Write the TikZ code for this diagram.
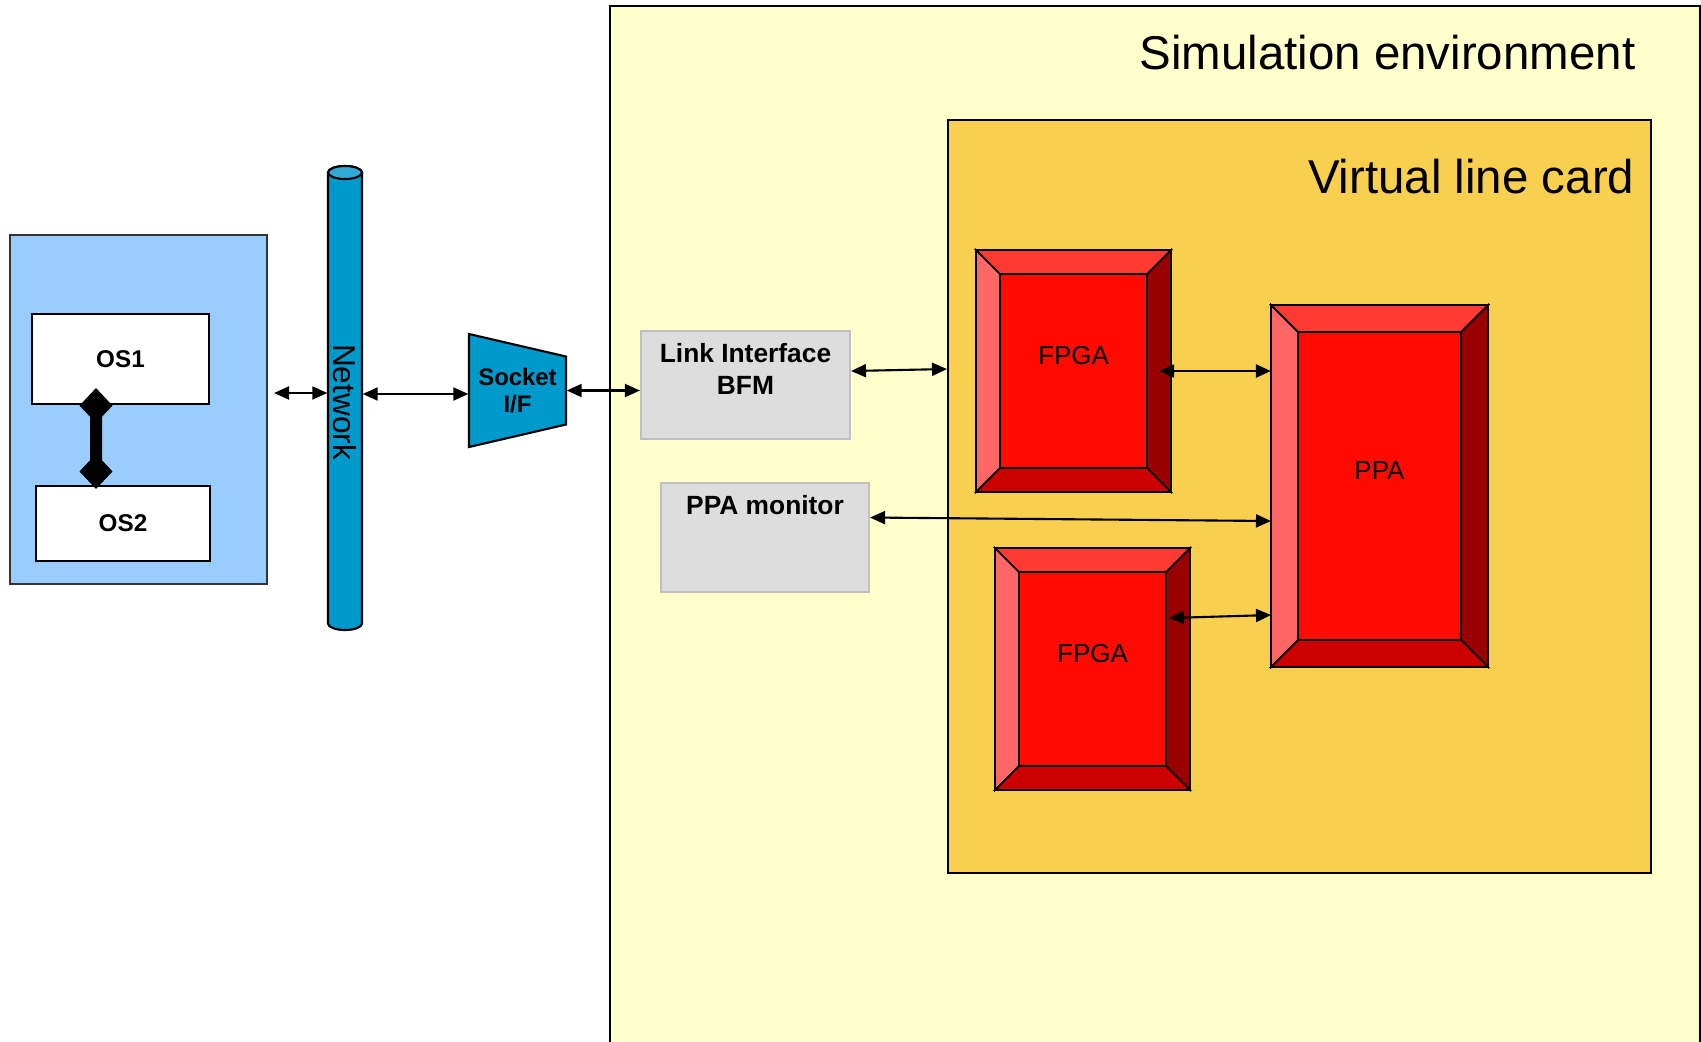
\documentclass[tikz,border=0pt]{standalone}
\usepackage{fontspec}
\setmainfont{Liberation Sans}
\usetikzlibrary{arrows.meta}
\usetikzlibrary{shapes.geometric}

\definecolor{simyellow}{HTML}{FFFFCC}
\definecolor{cardgold}{HTML}{F8CF4E}
\definecolor{hostblue}{HTML}{99CCFF}
\definecolor{netblue}{HTML}{0099CC}
\definecolor{netcap}{HTML}{33AAD5}
\definecolor{bfmgray}{HTML}{DDDDDD}
\definecolor{bfmedge}{HTML}{C0C0C0}
\definecolor{chipface}{HTML}{FF0A00}
\definecolor{chiptop}{HTML}{FF3A33}
\definecolor{chipleft}{HTML}{FF6666}
\definecolor{chipright}{HTML}{990000}
\definecolor{chipbottom}{HTML}{CC0000}

\tikzset{
    tbox/.style = {rectangle, inner sep=0pt, line width=0.6pt},
    env_box/.style = {tbox, draw=black, fill=simyellow, anchor=north west},
    card_box/.style = {tbox, draw=black, fill=cardgold, anchor=north west},
    title/.style = {inner sep=0pt, anchor=base east, font=\fontsize{13.5}{16}\selectfont},
    host_box/.style = {tbox, draw=black!80, fill=hostblue},
    os_box/.style = {tbox, draw=black, fill=white, font=\fontsize{6.9}{8}\selectfont\bfseries},
    os_link/.style = {line width=0.12cm, shorten <=-0.17cm, shorten >=-0.04cm,
        {Diamond[length=0.35cm,width=0.33cm,line width=0pt]}-{Diamond[length=0.35cm,width=0.33cm,line width=0pt]}},
    pipe/.style = {draw=black, line width=0.6pt},
    net_text/.style = {rectangle, rotate=-90, inner sep=0pt, minimum width=4.64cm, minimum height=0.34cm,
        font=\fontsize{9}{11}\selectfont},
    sock_text/.style = {align=center, inner sep=0pt, minimum width=0.97cm, minimum height=1.13cm,
        font=\fontsize{6.8}{7.7}\selectfont\bfseries},
    bfm_box/.style = {tbox, draw=bfmedge, fill=bfmgray},
    bfm_text/.style = {align=center, inner sep=0pt, font=\fontsize{7.5}{9.1}\selectfont\bfseries},
    chip/.style = {tbox, draw=black},
    chip_text/.style = {inner sep=0pt, font=\fontsize{7.4}{9}\selectfont},
    link/.style = {line width=0.6pt,
        {Triangle[length=0.15cm,width=0.13cm]}-{Triangle[length=0.15cm,width=0.13cm]}}
}

% bevelled chip: node name, bevel width, label
\newcommand{\chipfaces}[3]{%
    \filldraw[fill=chipleft, draw=black, line width=0.5pt] (#1.north west) -- ([shift={(#2,-#2)}]#1.north west)
        -- ([shift={(#2,#2)}]#1.south west) -- (#1.south west) -- cycle;
    \filldraw[fill=chipright, draw=black, line width=0.5pt] (#1.north east) -- ([shift={(-#2,-#2)}]#1.north east)
        -- ([shift={(-#2,#2)}]#1.south east) -- (#1.south east) -- cycle;
    \filldraw[fill=chiptop, draw=black, line width=0.5pt] (#1.north west) -- (#1.north east)
        -- ([shift={(-#2,-#2)}]#1.north east) -- ([shift={(#2,-#2)}]#1.north west) -- cycle;
    \filldraw[fill=chipbottom, draw=black, line width=0.5pt] (#1.south west) -- (#1.south east)
        -- ([shift={(-#2,#2)}]#1.south east) -- ([shift={(#2,#2)}]#1.south west) -- cycle;
    \filldraw[fill=chipface, draw=black, line width=0.5pt] ([shift={(#2,-#2)}]#1.north west)
        rectangle ([shift={(-#2,#2)}]#1.south east);
    \draw[line width=0.6pt] (#1.north west) rectangle (#1.south east);
    \node[chip_text] at ([yshift=0.15cm]#1.center) {#3};
}

\begin{document}
\begin{tikzpicture}
    \useasboundingbox (0,0) rectangle (17.01,-10.41);

    % simulation side
    \node[env_box, minimum width=10.90cm, minimum height=10.5cm] (sim) at (6.09,-0.05) {};
    \node[title] at (16.36,-0.69) {Simulation environment};
    \node[card_box, minimum width=7.03cm, minimum height=7.53cm] (vlc) at (9.47,-1.19) {};
    \node[title] at (16.35,-1.93) {Virtual line card};

    % host with its two OSes
    \node[host_box, minimum width=2.57cm, minimum height=3.49cm] (host) at (1.385,-4.095) {};
    \node[os_box, minimum width=1.77cm, minimum height=0.90cm] (os1) at (1.205,-3.59) {OS1};
    \node[os_box, minimum width=1.74cm, minimum height=0.75cm] (os2) at (1.23,-5.235) {OS2};
    \draw[os_link] ([xshift=-0.245cm]os1.south) -- ([xshift=-0.27cm]os2.north);

    % network pipe
    \coordinate (nc) at (3.45,-3.98);
    \filldraw[pipe, fill=netblue] ([shift={(-0.17,2.255)}]nc) -- ([shift={(-0.17,-2.255)}]nc)
        arc[start angle=180, end angle=360, x radius=0.17, y radius=0.065]
        -- ([shift={(0.17,2.255)}]nc)
        arc[start angle=0, end angle=180, x radius=0.17, y radius=0.065] -- cycle;
    \filldraw[pipe, fill=netcap] ([yshift=2.255cm]nc) ellipse [x radius=0.17, y radius=0.065];
    \node[net_text] (net) at ([yshift=-0.04cm]nc) {Network};

    % socket interface
    \coordinate (sk) at (5.175,-3.905);
    \filldraw[fill=netblue, draw=black, line width=0.6pt] ([shift={(-0.485,0.565)}]sk) -- ([shift={(0.485,0.34)}]sk)
        -- ([shift={(0.485,-0.34)}]sk) -- ([shift={(-0.485,-0.565)}]sk) -- cycle;
    \node[sock_text] (socket) at (sk) {Socket\\I/F};

    \node[bfm_box, minimum width=2.09cm, minimum height=1.08cm,
        label={[bfm_text, anchor=north, yshift=-0.13cm]north:Link Interface\\BFM}] (bfm) at (7.455,-3.85) {};
    \node[bfm_box, minimum width=2.08cm, minimum height=1.09cm,
        label={[bfm_text, anchor=north, yshift=-0.13cm]north:PPA monitor}] (pmon) at (7.65,-5.375) {};

    % chips on the card
    \node[chip, minimum width=1.93cm, minimum height=2.40cm] (fpga1) at (10.735,-3.71) {};
    \chipfaces{fpga1}{0.24cm}{FPGA}
    \node[chip, minimum width=1.93cm, minimum height=2.40cm] (fpga2) at (10.925,-6.69) {};
    \chipfaces{fpga2}{0.24cm}{FPGA}
    \node[chip, minimum width=2.15cm, minimum height=3.60cm] (ppa) at (13.795,-4.86) {};
    \chipfaces{ppa}{0.27cm}{PPA}

    % connections
    \draw[link] ([xshift=0.06cm,yshift=0.165cm]host.east) -- ([yshift=0.165cm]host.east -| net.south);
    \draw[link] ([yshift=0.08cm]net.north) -- ([yshift=0.08cm]net.north -| socket.west);
    \draw[link] (socket.east) -- (socket.east -| bfm.west);
    \draw[link] ([yshift=0.14cm]bfm.east) -- ([yshift=0.16cm]bfm.east -| vlc.west);
    \draw[link] ([xshift=-0.12cm]fpga1.east) -- (fpga1.east -| ppa.west);
    \draw[link] ([yshift=0.2cm]pmon.east) -- ([yshift=-0.35cm]ppa.west);
    \draw[link] ([xshift=-0.21cm,yshift=0.51cm]fpga2.east) -- ([yshift=-1.29cm]ppa.west);
\end{tikzpicture}
\end{document}
